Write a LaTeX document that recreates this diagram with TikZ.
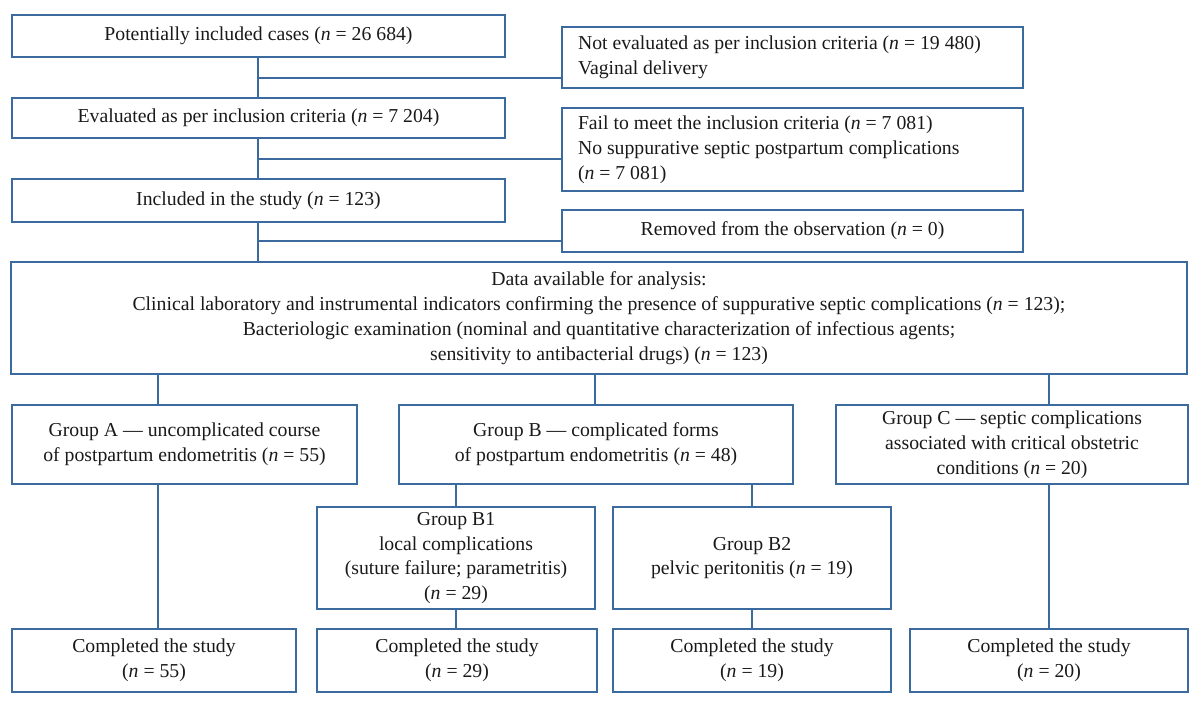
\documentclass[tikz,border=0pt]{standalone}
\usepackage{fontspec}
\setmainfont{Liberation Serif}
\begin{document}
\begin{tikzpicture}[x=0.75pt,y=-0.75pt,
  box/.style={draw=linec, line width=1.4pt, inner sep=0pt, align=center,
    font=\fontsize{14.8}{18.6}\selectfont, text=black!90},
  conn/.style={draw=linec, line width=1.4pt}]
\definecolor{linec}{HTML}{3A6A9E}
\useasboundingbox (0,0) rectangle (1200,706);
\newcommand{\nn}{\textit{n}}
% left column
\node[box, minimum width=493*0.75pt, minimum height=42*0.75pt] (p) at (258.5,36) {Potentially included cases (\nn{} = 26 684)};
\node[box, minimum width=493*0.75pt, minimum height=40*0.75pt] (e) at (258.5,118) {Evaluated as per inclusion criteria (\nn{} = 7 204)};
\node[box, minimum width=493*0.75pt, minimum height=43*0.75pt] (i) at (258.5,200.5) {Included in the study (\nn{} = 123)};
% right exclusion boxes
\node[box, align=flush left, text width=429*0.75pt, inner xsep=16*0.75pt, minimum height=61*0.75pt] (ne) at (792.5,57.5) {Not evaluated as per inclusion criteria (\nn{} = 19 480)\\Vaginal delivery};
\node[box, align=flush left, text width=429*0.75pt, inner xsep=16*0.75pt, minimum height=83*0.75pt] (f) at (792.5,149.5) {Fail to meet the inclusion criteria (\nn{} = 7 081)\\No suppurative septic postpartum complications\\(\nn{} = 7 081)};
\node[box, minimum width=461*0.75pt, minimum height=42*0.75pt] (r) at (792.5,231) {Removed from the observation (\nn{} = 0)};
% data box
\node[box, minimum width=1176*0.75pt, minimum height=112*0.75pt] (d) at (599,318) {Data available for analysis:\\Clinical laboratory and instrumental indicators confirming the presence of suppurative septic complications (\nn{} = 123);\\Bacteriologic examination (nominal and quantitative characterization of infectious agents;\\sensitivity to antibacterial drugs) (\nn{} = 123)};
% groups
\node[box, minimum width=345*0.75pt, minimum height=79*0.75pt] (a) at (184.5,444.5) {Group A --- uncomplicated course\\of postpartum endometritis (\nn{} = 55)};
\node[box, minimum width=394*0.75pt, minimum height=79*0.75pt] (b) at (596,444.5) {Group B --- complicated forms\\of postpartum endometritis (\nn{} = 48)};
\node[box, minimum width=352*0.75pt, minimum height=79*0.75pt] (c) at (1012,444.5) {Group C --- septic complications\\associated with critical obstetric\\conditions (\nn{} = 20)};
\node[box, minimum width=278*0.75pt, minimum height=102*0.75pt] (b1) at (456,558) {Group B1\\local complications\\(suture failure; parametritis)\\(\nn{} = 29)};
\node[box, minimum width=278*0.75pt, minimum height=102*0.75pt] (b2) at (752,558) {Group B2\\pelvic peritonitis (\nn{} = 19)};
% completed
\node[box, minimum width=284*0.75pt, minimum height=63*0.75pt] (ca) at (154,660.5) {Completed the study\\(\nn{} = 55)};
\node[box, minimum width=280*0.75pt, minimum height=63*0.75pt] (cb1) at (457,660.5) {Completed the study\\(\nn{} = 29)};
\node[box, minimum width=278*0.75pt, minimum height=63*0.75pt] (cb2) at (752,660.5) {Completed the study\\(\nn{} = 19)};
\node[box, minimum width=278*0.75pt, minimum height=63*0.75pt] (cc) at (1049,660.5) {Completed the study\\(\nn{} = 20)};
% connectors
\coordinate (j1) at (258,78);
\coordinate (j2) at (258,159);
\coordinate (j3) at (258,241);
\coordinate (xt) at (258,0);
\coordinate (xa) at (158,0);
\coordinate (xb) at (595,0);
\coordinate (xc) at (1049,0);
\draw[conn] (xt |- p.south) -- (xt |- e.north);
\draw[conn] (j1) -- (j1 -| ne.west);
\draw[conn] (xt |- e.south) -- (xt |- i.north);
\draw[conn] (j2) -- (j2 -| f.west);
\draw[conn] (xt |- i.south) -- (xt |- d.north);
\draw[conn] (j3) -- (j3 -| r.west);
\draw[conn] (xa |- d.south) -- (xa |- a.north);
\draw[conn] (xa |- a.south) -- (xa |- ca.north);
\draw[conn] (xb |- d.south) -- (xb |- b.north);
\draw[conn] (b1.north |- b.south) -- (b1.north);
\draw[conn] (b2.north |- b.south) -- (b2.north);
\draw[conn] (b1.south) -- (b1.south |- cb1.north);
\draw[conn] (b2.south) -- (b2.south |- cb2.north);
\draw[conn] (xc |- d.south) -- (xc |- c.north);
\draw[conn] (xc |- c.south) -- (xc |- cc.north);
\end{tikzpicture}
\end{document}
